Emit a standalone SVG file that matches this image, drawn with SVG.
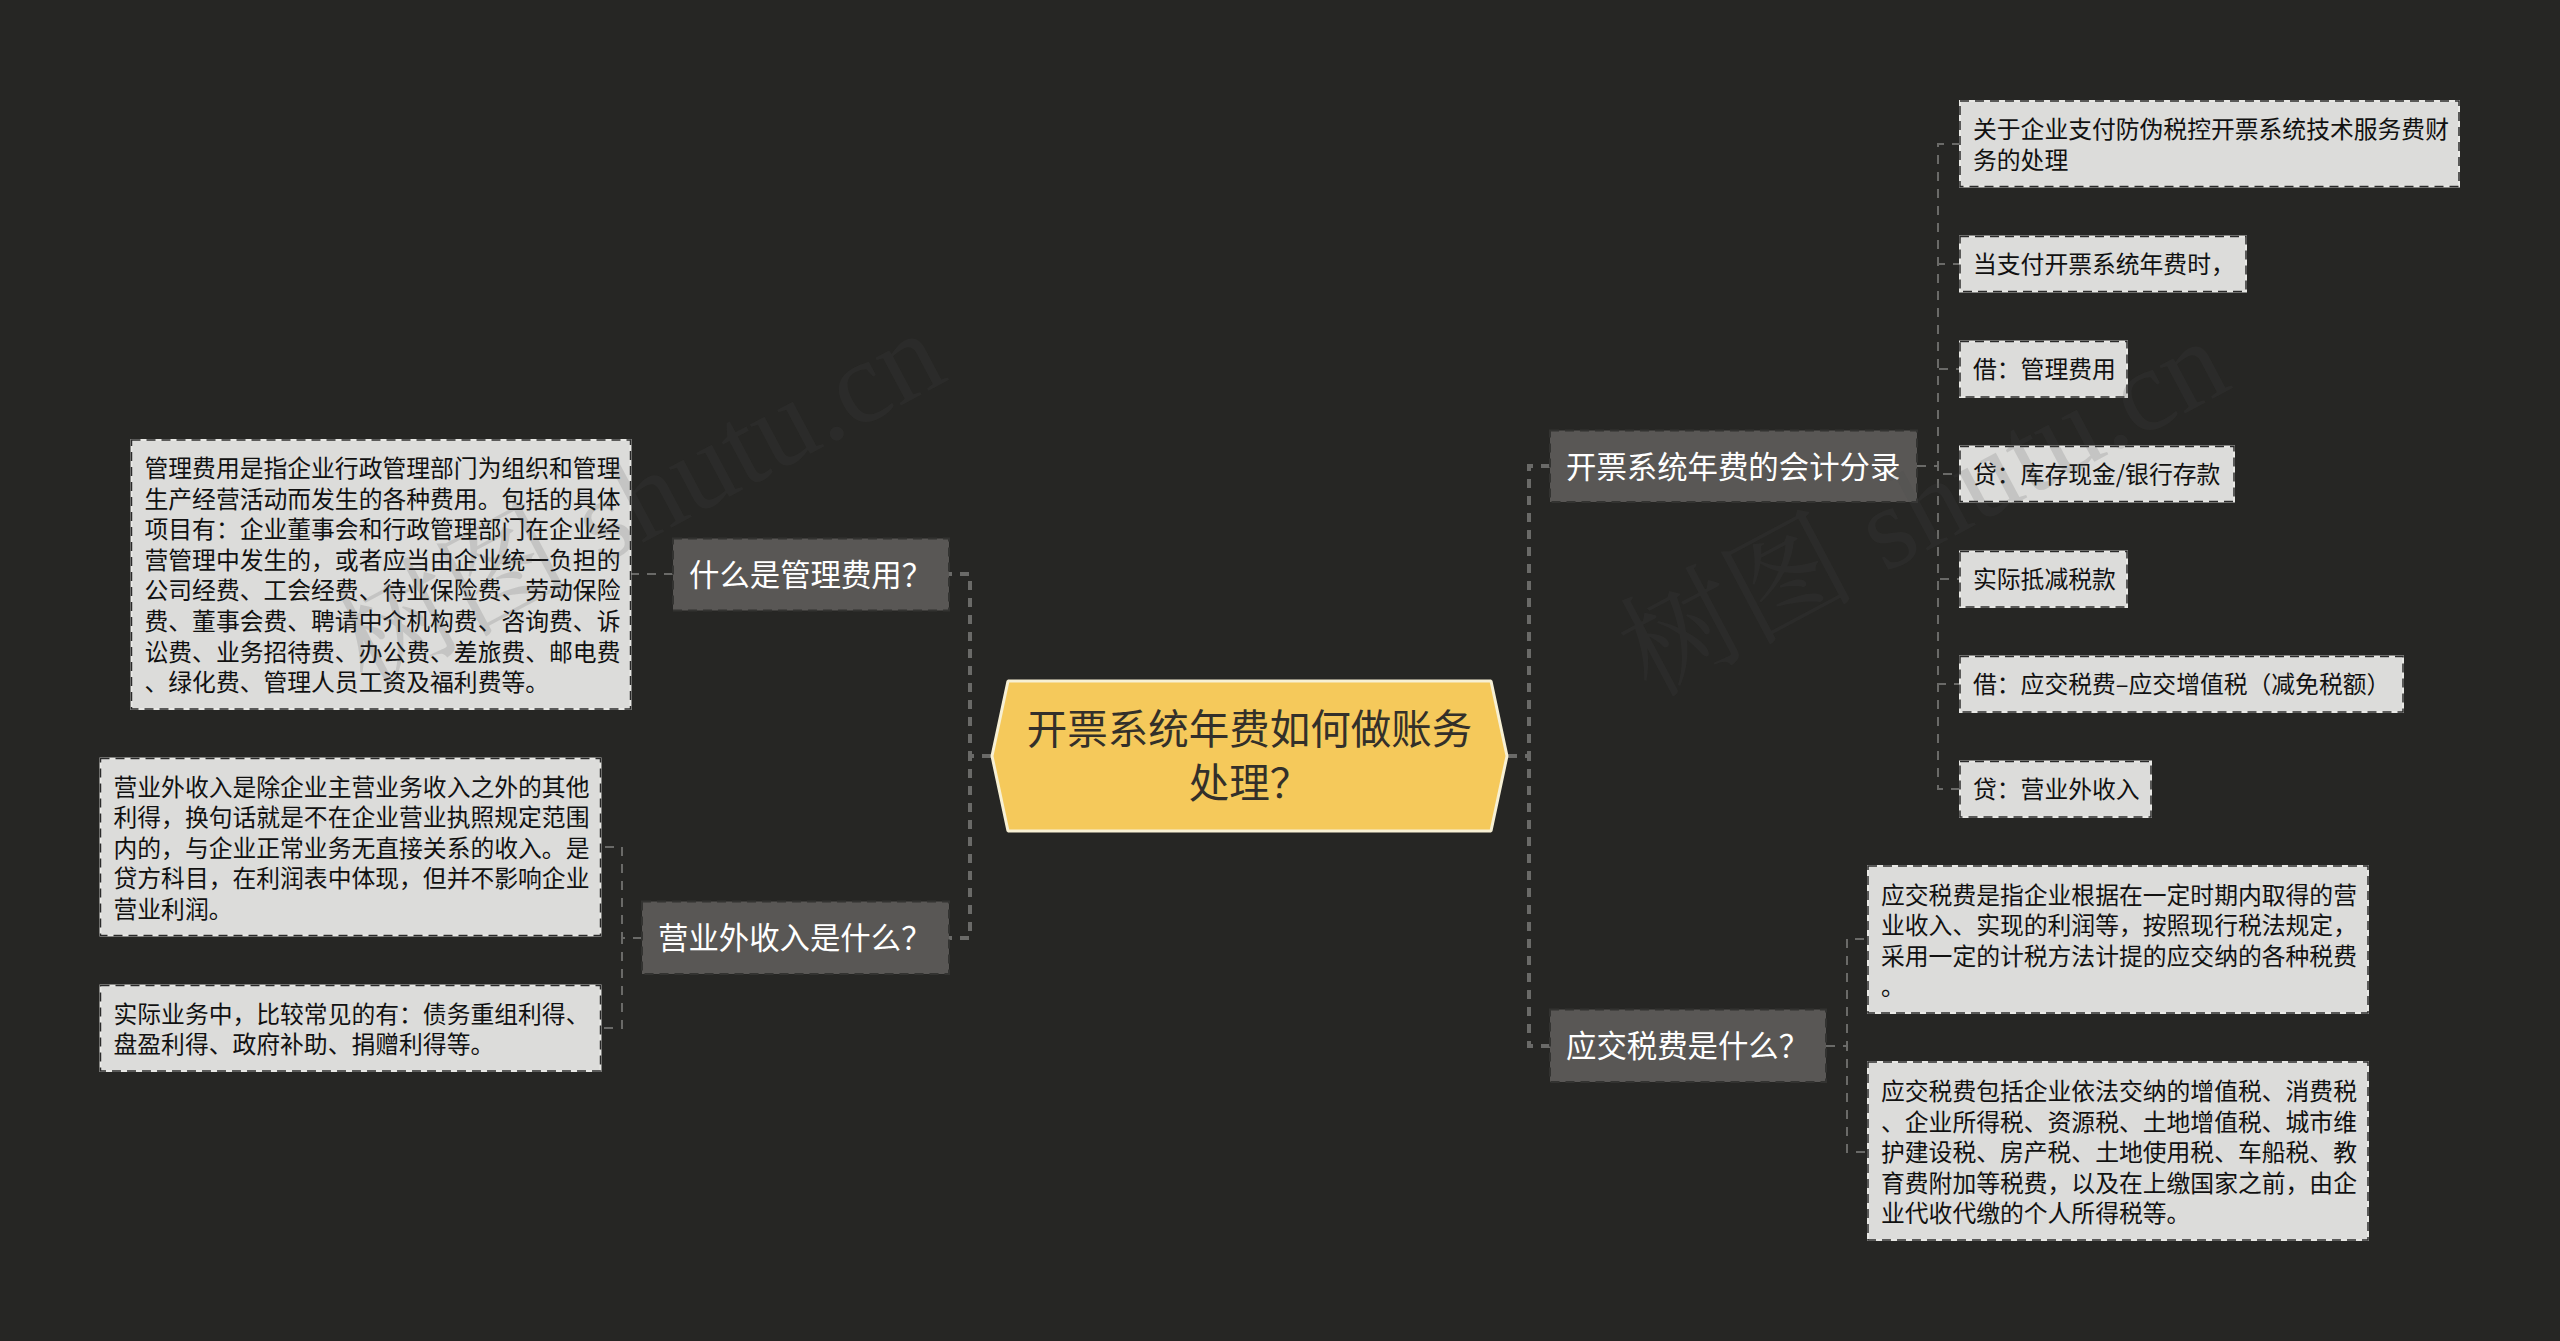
<svg xmlns="http://www.w3.org/2000/svg" width="2560" height="1341" viewBox="0 0 2560 1341">
<style>
text{font-family:"Noto Sans CJK SC","Noto Sans",sans-serif}
.trunk{fill:none;stroke:#6a6a68;stroke-width:4;stroke-dasharray:9 8}
.branch{fill:none;stroke:#6a6a68;stroke-width:2;stroke-dasharray:9 8}
.leaf{fill:#dcdcda;stroke:#e8e8e5;stroke-width:2}
.leafedge{fill:none;stroke:#2a2a2a;stroke-width:1.5;stroke-dasharray:9 6}
.topic{fill:#595755}
.topicedge{fill:none;stroke:#333331;stroke-width:2;stroke-dasharray:9 6}
.lt{font-size:23.8px;fill:#111}
.tt{font-size:30.4px;fill:#fff}
.rt{font-size:40.5px;fill:#33302a;text-anchor:middle}
.wm{font-family:"Liberation Serif","Noto Serif CJK SC","Noto Sans CJK SC",serif;font-size:118px;fill:#494949;fill-opacity:.16}
</style>
<rect id="background" width="2560" height="1341" fill="#262624"/>
<g id="connectors">
<path class="trunk" d="M991 756H970V574H949"/>
<path class="trunk" d="M991 756H970V938H949"/>
<path class="trunk" d="M1508 756H1529V466H1550"/>
<path class="trunk" d="M1508 756H1529V1046H1550"/>
<path class="branch" d="M673 574H630"/>
<path class="branch" d="M642 938H622V847H600"/>
<path class="branch" d="M642 938H622V1028H600"/>
<path class="branch" d="M1917 466H1938V144H1960"/>
<path class="branch" d="M1917 466H1938V264H1960"/>
<path class="branch" d="M1917 466H1938V369H1960"/>
<path class="branch" d="M1917 466H1938V474H1960"/>
<path class="branch" d="M1917 466H1938V579H1960"/>
<path class="branch" d="M1917 466H1938V684H1960"/>
<path class="branch" d="M1917 466H1938V789H1960"/>
<path class="branch" d="M1826 1046H1847V939H1868"/>
<path class="branch" d="M1826 1046H1847V1152H1868"/>
</g>
<g id="root">
<path d="M1008 681H1491L1507 756L1491 831H1008L992 756Z" fill="#f5c95b" stroke="#f7f0d4" stroke-width="3" stroke-linejoin="bevel"/>
<text class="rt"><tspan x="1249.5" y="743.5">开票系统年费如何做账务</tspan><tspan x="1249.5" y="797.5">处理？</tspan></text>
</g>
<g id="topic-guanli">
<rect class="topic" x="673" y="538.5" width="276" height="72"/><rect class="topicedge" x="673" y="538.5" width="276" height="72"/>
<text class="tt" x="689" y="585.5">什么是管理费用？</text>
</g>
<g id="topic-yingyewai">
<rect class="topic" x="642" y="901.5" width="307" height="72.5"/><rect class="topicedge" x="642" y="901.5" width="307" height="72.5"/>
<text class="tt" x="658" y="949">营业外收入是什么？</text>
</g>
<g id="topic-fenlu">
<rect class="topic" x="1550" y="430.5" width="367" height="71.5"/><rect class="topicedge" x="1550" y="430.5" width="367" height="71.5"/>
<text class="tt" x="1566" y="477.5">开票系统年费的会计分录</text>
</g>
<g id="topic-shuifei">
<rect class="topic" x="1550" y="1009.5" width="276" height="72.5"/><rect class="topicedge" x="1550" y="1009.5" width="276" height="72.5"/>
<text class="tt" x="1566" y="1056.5">应交税费是什么？</text>
</g>
<g id="leaf-guanli">
<rect class="leaf" x="131.5" y="440" width="499" height="269"/><rect class="leafedge" x="131.5" y="440" width="499" height="269"/>
<text class="lt"><tspan x="144.5" y="477">管理费用是指企业行政管理部门为组织和管理</tspan><tspan x="144.5" y="507.6">生产经营活动而发生的各种费用。包括的具体</tspan><tspan x="144.5" y="538.2">项目有：企业董事会和行政管理部门在企业经</tspan><tspan x="144.5" y="568.8">营管理中发生的，或者应当由企业统一负担的</tspan><tspan x="144.5" y="599.4">公司经费、工会经费、待业保险费、劳动保险</tspan><tspan x="144.5" y="630">费、董事会费、聘请中介机构费、咨询费、诉</tspan><tspan x="144.5" y="660.6">讼费、业务招待费、办公费、差旅费、邮电费</tspan><tspan x="144.5" y="691.2">、绿化费、管理人员工资及福利费等。</tspan></text>
</g>
<g id="leaf-yingyewai-1">
<rect class="leaf" x="100.5" y="758.5" width="500" height="177"/><rect class="leafedge" x="100.5" y="758.5" width="500" height="177"/>
<text class="lt"><tspan x="113.5" y="795.5">营业外收入是除企业主营业务收入之外的其他</tspan><tspan x="113.5" y="826">利得，换句话就是不在企业营业执照规定范围</tspan><tspan x="113.5" y="856.5">内的，与企业正常业务无直接关系的收入。是</tspan><tspan x="113.5" y="887">贷方科目，在利润表中体现，但并不影响企业</tspan><tspan x="113.5" y="917.5">营业利润。</tspan></text>
</g>
<g id="leaf-yingyewai-2">
<rect class="leaf" x="100.5" y="985.5" width="500" height="85.5"/><rect class="leafedge" x="100.5" y="985.5" width="500" height="85.5"/>
<text class="lt"><tspan x="113.5" y="1022.5">实际业务中，比较常见的有：债务重组利得、</tspan><tspan x="113.5" y="1053">盘盈利得、政府补助、捐赠利得等。</tspan></text>
</g>
<g id="leaf-fenlu-1">
<rect class="leaf" x="1960" y="101" width="499" height="85.5"/><rect class="leafedge" x="1960" y="101" width="499" height="85.5"/>
<text class="lt"><tspan x="1973" y="138">关于企业支付防伪税控开票系统技术服务费财</tspan><tspan x="1973" y="168.5">务的处理</tspan></text>
</g>
<g id="leaf-fenlu-2">
<rect class="leaf" x="1960" y="236.5" width="286" height="55"/><rect class="leafedge" x="1960" y="236.5" width="286" height="55"/>
<text class="lt" x="1973" y="273">当支付开票系统年费时，</text>
</g>
<g id="leaf-fenlu-3">
<rect class="leaf" x="1960" y="341.5" width="167" height="55.5"/><rect class="leafedge" x="1960" y="341.5" width="167" height="55.5"/>
<text class="lt" x="1973" y="378">借：管理费用</text>
</g>
<g id="leaf-fenlu-4">
<rect class="leaf" x="1960" y="446.5" width="274" height="55"/><rect class="leafedge" x="1960" y="446.5" width="274" height="55"/>
<text class="lt" x="1973" y="483">贷：库存现金/银行存款</text>
</g>
<g id="leaf-fenlu-5">
<rect class="leaf" x="1960" y="551.5" width="167" height="55.5"/><rect class="leafedge" x="1960" y="551.5" width="167" height="55.5"/>
<text class="lt" x="1973" y="588">实际抵减税款</text>
</g>
<g id="leaf-fenlu-6">
<rect class="leaf" x="1960" y="656.5" width="443" height="55.5"/><rect class="leafedge" x="1960" y="656.5" width="443" height="55.5"/>
<text class="lt" x="1973" y="693">借：应交税费–应交增值税（减免税额）</text>
</g>
<g id="leaf-fenlu-7">
<rect class="leaf" x="1960" y="761.5" width="191" height="55.5"/><rect class="leafedge" x="1960" y="761.5" width="191" height="55.5"/>
<text class="lt" x="1973" y="798">贷：营业外收入</text>
</g>
<g id="leaf-shuifei-1">
<rect class="leaf" x="1868" y="866" width="500" height="147"/><rect class="leafedge" x="1868" y="866" width="500" height="147"/>
<text class="lt"><tspan x="1881" y="903.5">应交税费是指企业根据在一定时期内取得的营</tspan><tspan x="1881" y="934">业收入、实现的利润等，按照现行税法规定，</tspan><tspan x="1881" y="964.5">采用一定的计税方法计提的应交纳的各种税费</tspan><tspan x="1881" y="995">。</tspan></text>
</g>
<g id="leaf-shuifei-2">
<rect class="leaf" x="1868" y="1062" width="500" height="178"/><rect class="leafedge" x="1868" y="1062" width="500" height="178"/>
<text class="lt"><tspan x="1881" y="1100">应交税费包括企业依法交纳的增值税、消费税</tspan><tspan x="1881" y="1130.5">、企业所得税、资源税、土地增值税、城市维</tspan><tspan x="1881" y="1161">护建设税、房产税、土地使用税、车船税、教</tspan><tspan x="1881" y="1191.5">育费附加等税费，以及在上缴国家之前，由企</tspan><tspan x="1881" y="1222">业代收代缴的个人所得税等。</tspan></text>
</g>
<g id="watermarks">
<text class="wm" transform="translate(366 690) rotate(-28)">树图 shutu.cn</text>
<text class="wm" transform="translate(1650 698) rotate(-28)">树图 shutu.cn</text>
</g>
</svg>
